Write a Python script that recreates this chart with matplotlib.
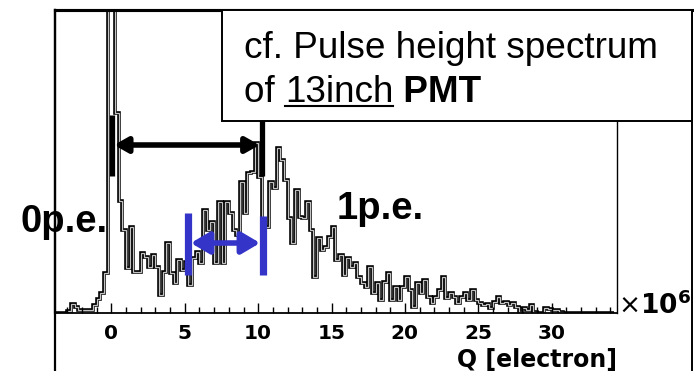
import numpy as np
import matplotlib.pyplot as plt
from matplotlib.patches import Rectangle
from matplotlib.lines import Line2D

# pulse height spectrum (Q in units of 1e6 electrons, bins of 0.25)
q_start = -3.75
bin_width = 0.25
counts = [
    0, 0, 0, 2, 9, 6, 3, 3, 3, 3, 8, 14, 20, 40,          # -3.75 .. -0.25
    400, 400, 200, 112, 83, 45, 86, 41, 41, 60, 56, 46,  # -0.25 .. 2.75
    58, 46, 18, 41, 70, 40, 30, 53, 43, 51, 28, 55,      # 2.75 .. 5.75
    61, 50, 103, 83, 91, 50, 111, 50, 111, 100, 83, 78,  # 5.75 .. 8.75
    131, 100, 140, 141, 170, 136, 86, 86, 131, 125, 165, 153,  # 8.75 .. 11.75
    133, 95, 70, 123, 96, 95, 111, 83, 36, 75, 63, 66,   # 11.75 .. 14.75
    76, 86, 53, 58, 38, 55, 46, 50, 36, 30, 26, 46,      # 14.75 .. 17.75
    20, 30, 13, 31, 40, 13, 26, 13, 26, 36, 23, 6,       # 17.75 .. 20.75
    30, 20, 33, 16, 10, 16, 23, 36, 15, 20, 16, 10,      # 20.75 .. 23.75
    16, 20, 13, 23, 13, 10, 8, 9, 5, 11, 16, 10,         # 23.75 .. 26.75
    11, 8, 10, 6, 1, 5, 3, 8, 1, 0, 0, 5,                # 26.75 .. 29.75
    4, 3, 3, 1, 0, 0, 0, 0, 0, 0, 0, 0,                  # 29.75 .. 32.75
    0, 0, 0, 0, 0, 0,                                    # 32.75 .. 34.25
]
edges = q_start + bin_width * np.arange(len(counts) + 1)

major_ticks = [0, 5, 10, 15, 20, 25, 30]
minor_ticks = list(range(-3, 35))

# gain markers: 0 p.e. / 1 p.e. peak positions and width of the 1 p.e. peak
peak_0pe = 0.02
peak_1pe = 10.25
width_lo = 5.21
width_hi = 10.33

W, H = 694, 371
fig = plt.figure(figsize=(W / 100, H / 100), dpi=100)
ax = fig.add_axes([55 / W, 1 - 313 / H, (617 - 55) / W, (313 - 10) / H])

ax.stairs(counts, edges, color='black', lw=2.6)
ax.stairs(counts, edges, color='#c4c4c4', lw=0.9)

ax.set_xlim(-3.85, 34.46)
ax.set_ylim(0, 303)
ax.set_yticks([])
ax.set_xticks(major_ticks)
ax.set_xticks(minor_ticks, minor=True)
ax.tick_params(axis='x', which='major', direction='in', length=7.5, width=1.0, pad=8)
ax.tick_params(axis='x', which='minor', direction='in', length=4.5, width=1.0)
for lab in ax.get_xticklabels():
    lab.set_fontweight('bold')
    lab.set_fontsize(14.5)
    lab.set_family('DejaVu Sans')

ax.spines['left'].set_linewidth(1.6)
ax.spines['bottom'].set_linewidth(1.3)
ax.spines['right'].set_linewidth(1.0)
ax.spines['top'].set_linewidth(2.2)

# black: distance between 0 p.e. and 1 p.e.
for xb in (peak_0pe, peak_1pe):
    ax.plot([xb, xb], [137, 198], color='black', lw=3.8, solid_capstyle='butt')
ax.annotate('', xy=(peak_1pe - 0.15, 168), xytext=(peak_0pe + 0.15, 168),
            arrowprops=dict(arrowstyle='<|-|>,head_length=0.8,head_width=0.45',
                            lw=4, color='black', shrinkA=0, shrinkB=0,
                            mutation_scale=10))

# blue: width of the 1 p.e. peak
blue = '#3434c8'
ax.plot([width_lo, width_lo], [38, 100], color=blue, lw=5.2, solid_capstyle='butt')
ax.plot([width_hi, width_hi], [38, 97], color=blue, lw=5.2, solid_capstyle='butt')
ax.annotate('', xy=(width_hi - 0.2, 70), xytext=(width_lo + 0.2, 70),
            arrowprops=dict(arrowstyle='<|-|>,head_length=1.1,head_width=0.65',
                            lw=4.0, color=blue, shrinkA=0, shrinkB=0,
                            mutation_scale=10))

ax.text(1.0, -0.155, 'Q [electron]', transform=ax.transAxes, ha='right', va='center',
        fontsize=17, fontweight='bold', family='DejaVu Sans')
ax.annotate(r'$\times\mathbf{10^{6}}$', xy=(1.0, 0), xycoords='axes fraction',
            xytext=(1, -1), textcoords='offset points', ha='left', va='baseline',
            fontsize=19)

# outer frame
def px(x, y):
    return x / W, 1 - y / H

for (x0, y0), (x1, y1), lw in [((55, 10), (55, 371), 1.6),
                               ((55, 10), (692, 10), 2.2),
                               ((692, 10), (692, 371), 1.4)]:
    fig.add_artist(Line2D([px(x0, y0)[0], px(x1, y1)[0]], [px(x0, y0)[1], px(x1, y1)[1]],
                          color='black', lw=lw, transform=fig.transFigure))

# text box
fig.add_artist(Rectangle(px(222, 121), (692 - 222) / W, (121 - 10) / H,
                         transform=fig.transFigure, fc='white', ec='black', lw=1.4,
                         zorder=5))
font = 'Liberation Sans'
fs = 26.6
fig.text(*px(244, 58), 'cf. Pulse height spectrum', fontsize=fs, family=font,
         va='baseline', zorder=6)
r = fig.canvas.get_renderer()
t1 = fig.text(*px(244, 102), 'of ', fontsize=fs, family=font, va='baseline', zorder=6)
x2 = 244 + t1.get_window_extent(r).width
t2 = fig.text(*px(x2, 102), '13inch', fontsize=fs, family=font, va='baseline', zorder=6)
w2 = t2.get_window_extent(r).width
x3 = x2 + w2
fig.text(*px(x3, 102), ' PMT', fontsize=fs, family=font, fontweight='bold',
         va='baseline', zorder=6)
fig.add_artist(Line2D([px(x2, 0)[0], px(x3, 0)[0]], [px(0, 106)[1]] * 2,
                      color='black', lw=1.5, transform=fig.transFigure, zorder=6))

# peak labels
fig.text(*px(20, 232), '0p.e.', fontsize=27.5, family=font, fontweight='bold',
         va='baseline', zorder=6)
fig.text(*px(337, 219), '1p.e.', fontsize=27.5, family=font, fontweight='bold',
         va='baseline', zorder=6)

fig.savefig('out.png', dpi=100)
